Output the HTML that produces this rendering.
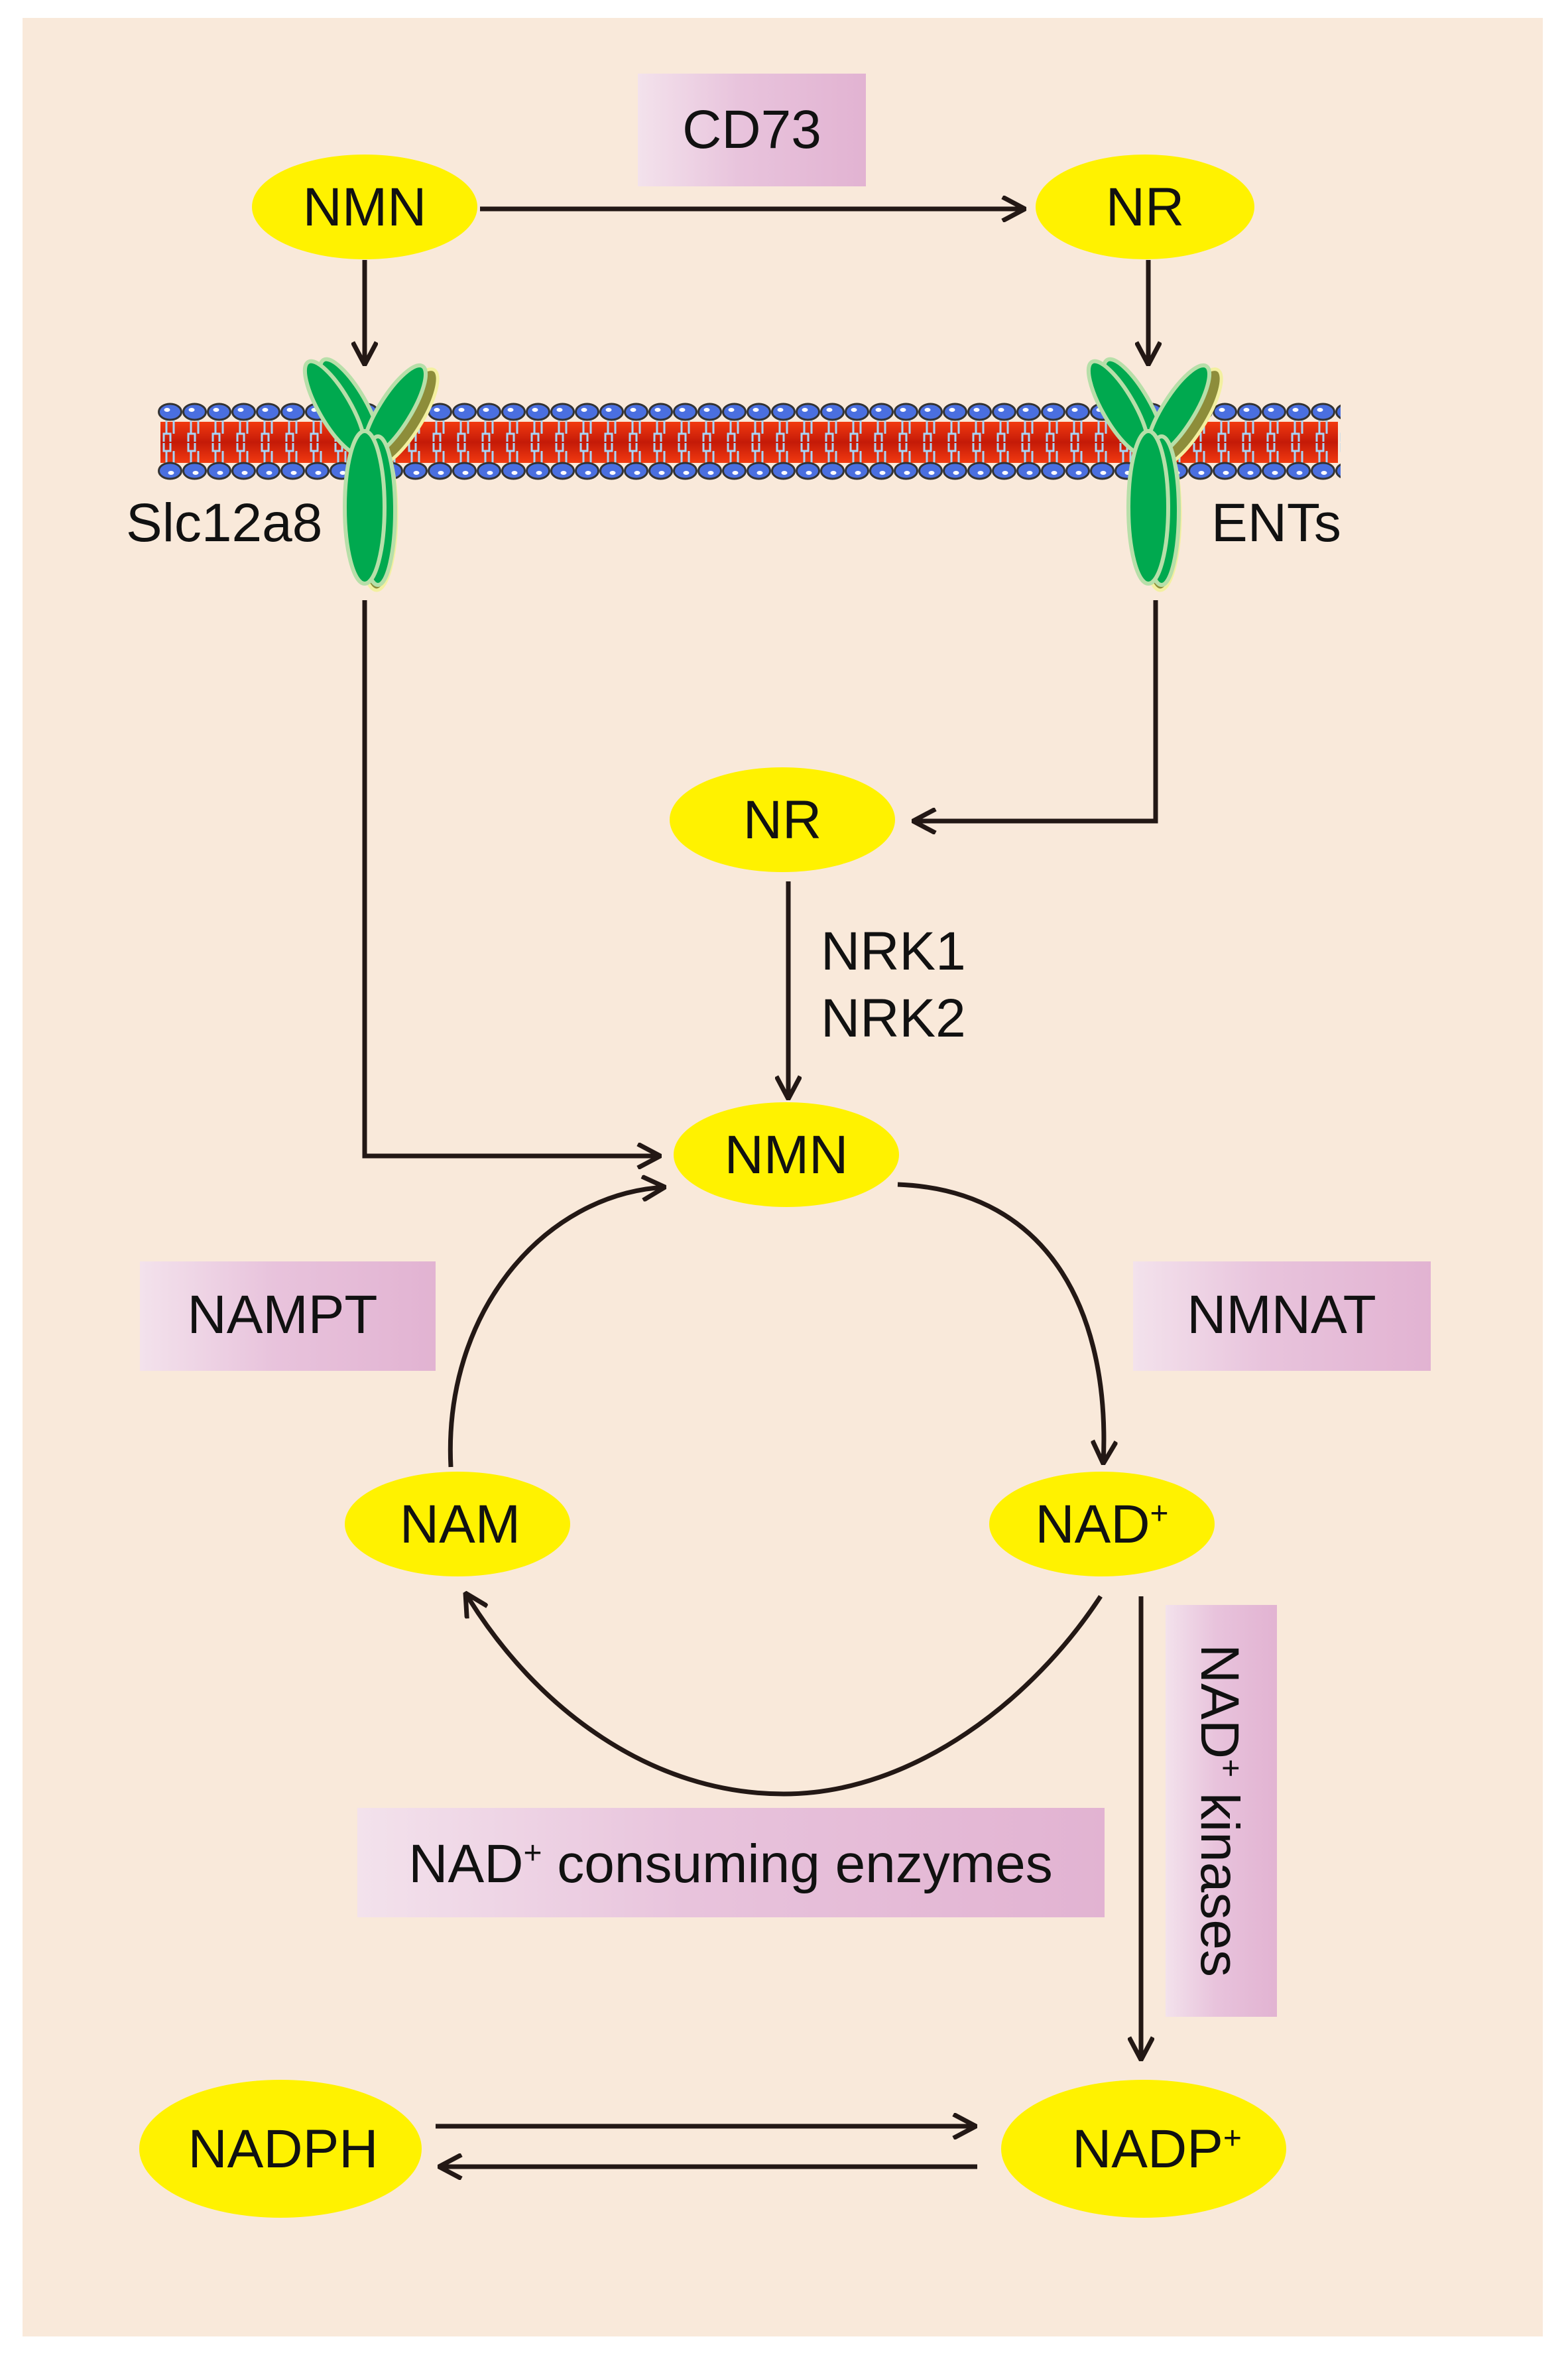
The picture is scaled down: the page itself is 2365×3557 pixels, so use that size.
<!DOCTYPE html>
<html><head><meta charset="utf-8"><style>
html,body{margin:0;padding:0;background:#fff}
svg{display:block}
text{font-family:"Liberation Sans",Arial,sans-serif;fill:#111}
</style></head><body>
<svg width="2365" height="3557" viewBox="0 0 2365 3557" xmlns="http://www.w3.org/2000/svg">
<defs>
<linearGradient id="pk" x1="0" y1="0" x2="1" y2="0">
<stop offset="0" stop-color="#f3e2ec"/><stop offset="0.45" stop-color="#e8c3dc"/><stop offset="1" stop-color="#e2b3d2"/></linearGradient>
<linearGradient id="red" x1="0" y1="0" x2="0" y2="1">
<stop offset="0" stop-color="#f23a10"/><stop offset="0.5" stop-color="#c41a08"/><stop offset="1" stop-color="#f23a10"/></linearGradient>
<pattern id="lip" x="238" y="0" width="37" height="3557" patternUnits="userSpaceOnUse">
<path d="M13 632v22h-4v12M13 654h6v12M24 632v22M13 700v-20h-4v-12M13 680h6v-12M24 700v-20" stroke="#a8d4f5" stroke-width="3" fill="none"/>
<ellipse cx="18.5" cy="621" rx="17" ry="12" fill="#4a6fe0" stroke="#333" stroke-width="3"/>
<ellipse cx="14" cy="618" rx="4.5" ry="3" fill="#fff"/>
<ellipse cx="18.5" cy="710" rx="17" ry="12" fill="#4a6fe0" stroke="#333" stroke-width="3"/>
<ellipse cx="20" cy="713" rx="4.5" ry="3" fill="#fff"/>
</pattern>
<marker id="ah" viewBox="0 0 40 40" refX="38" refY="20" markerWidth="40" markerHeight="40" markerUnits="userSpaceOnUse" orient="auto">
<path d="M4 2L38 20L4 38" fill="none" stroke="#231815" stroke-width="7"/></marker>
<g id="tr">
<g transform="translate(18,10)" fill="#8d8d3a" stroke="#f3f0a0" stroke-width="5">
<ellipse cx="-40" cy="615" rx="26" ry="85" transform="rotate(-30 -40 615)"/>
<ellipse cx="42" cy="620" rx="26" ry="85" transform="rotate(32 42 620)"/>
<ellipse cx="0" cy="765" rx="30" ry="115"/></g>
<g fill="#00a94f" stroke="#b7dfa9" stroke-width="6">
<ellipse cx="-22" cy="612" rx="24" ry="80" transform="rotate(-30 -22 612)"/>
<ellipse cx="-45" cy="615" rx="24" ry="80" transform="rotate(-30 -45 615)"/>
<ellipse cx="45" cy="620" rx="24" ry="80" transform="rotate(32 45 620)"/>
<ellipse cx="20" cy="770" rx="26" ry="112"/>
<ellipse cx="0" cy="765" rx="30" ry="115"/></g>
</g>
</defs>
<rect x="34" y="27" width="2293" height="3496" fill="#f9e9da"/>
<rect x="242" y="636" width="1776" height="62" fill="url(#red)"/>
<rect x="238" y="600" width="1784" height="125" fill="url(#lip)"/>
<use href="#tr" x="550"/>
<use href="#tr" x="1732"/>
<rect x="962" y="111" width="344" height="170" fill="url(#pk)"/>
<rect x="211" y="1902" width="446" height="165" fill="url(#pk)"/>
<rect x="1709" y="1902" width="449" height="165" fill="url(#pk)"/>
<rect x="539" y="2726" width="1127" height="165" fill="url(#pk)"/>
<rect x="1758" y="2420" width="168" height="621" fill="url(#pk)"/>
<g fill="#fff200">
<ellipse cx="550" cy="312" rx="170" ry="79"/>
<ellipse cx="1727" cy="312" rx="165" ry="79"/>
<ellipse cx="1180" cy="1236" rx="170" ry="79"/>
<ellipse cx="1186" cy="1741" rx="170" ry="79"/>
<ellipse cx="690" cy="2298" rx="170" ry="79"/>
<ellipse cx="1662" cy="2298" rx="170" ry="79"/>
<ellipse cx="423" cy="3240" rx="213" ry="104"/>
<ellipse cx="1725" cy="3240" rx="215" ry="104"/>
</g>
<g stroke="#231815" stroke-width="7" fill="none" marker-end="url(#ah)">
<path d="M724 315H1546"/>
<path d="M550 392V550"/>
<path d="M1732 392V550"/>
<path d="M550 905V1743H996"/>
<path d="M1743 905V1238H1377"/>
<path d="M1189 1329V1657"/>
<path d="M1354 1786C1590 1795 1675 1990 1664 2207"/>
<path d="M680 2212C668 1980 820 1800 1003 1790"/>
<path d="M1660 2407C1560 2560 1380 2705 1182 2705C985 2705 810 2580 702 2402"/>
<path d="M1721 2407V3106"/>
<path d="M657 3206H1472"/>
<path d="M1474 3267H662"/>
</g>
<g font-size="82" text-anchor="middle">
<text x="1134" y="223">CD73</text>
<text x="550" y="340">NMN</text>
<text x="1727" y="340">NR</text>
<text x="1180" y="1264">NR</text>
<text x="1186" y="1769">NMN</text>
<text x="426" y="2010">NAMPT</text>
<text x="1933" y="2010">NMNAT</text>
<text x="694" y="2326">NAM</text>
<text x="1662" y="2326">NAD<tspan font-size="48" dy="-28">+</tspan></text>
<text x="427" y="3268">NADPH</text>
<text x="1745" y="3268">NADP<tspan font-size="48" dy="-28">+</tspan></text>
<text x="1102" y="2838">NAD<tspan font-size="48" dy="-28">+</tspan><tspan dy="28"> consuming enzymes</tspan></text>
</g>
<g font-size="82">
<text x="190" y="816">Slc12a8</text>
<text x="1827" y="816">ENTs</text>
<text x="1238" y="1462">NRK1</text>
<text x="1238" y="1563">NRK2</text>
<text transform="translate(1812,2730) rotate(90)" text-anchor="middle">NAD<tspan font-size="48" dy="-28">+</tspan><tspan dy="28"> kinases</tspan></text>
</g>
</svg>
</body></html>
